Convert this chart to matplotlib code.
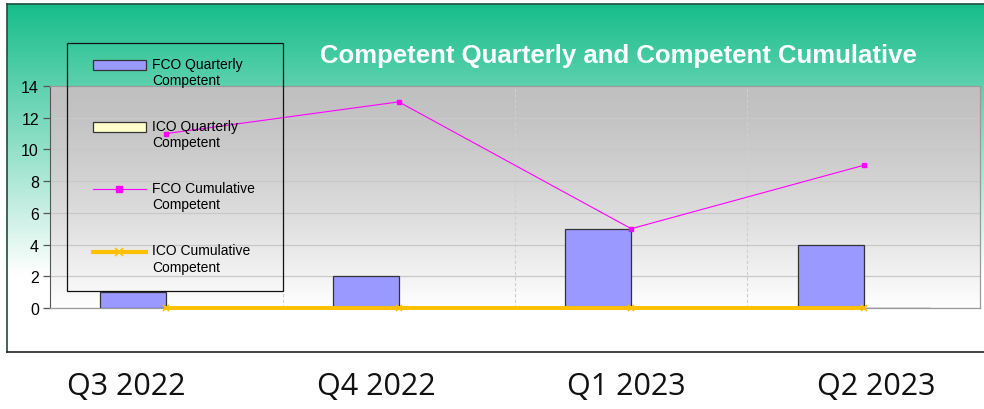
import numpy as np
import matplotlib
matplotlib.use("Agg")
import matplotlib.pyplot as plt
from matplotlib.patches import Rectangle, Patch
from matplotlib.lines import Line2D
from matplotlib.legend_handler import HandlerPatch, HandlerLine2D
from matplotlib.transforms import Affine2D
from matplotlib.colors import to_rgb

quarters = ["Q3 2022", "Q4 2022", "Q1 2023", "Q2 2023"]
fco_quarterly = [1, 2, 5, 4]
ico_quarterly = [0, 0, 0, 0]
fco_cumulative = [11, 13, 5, 9]
ico_cumulative = [0, 0, 0, 0]

W, H = 984, 410
plt.rcParams["font.family"] = ["Liberation Sans", "DejaVu Sans"]


def box(x0, y0, x1, y1):
    # pixel box (top-left origin) -> figure fraction rect
    return [x0 / W, 1 - y1 / H, (x1 - x0) / W, (y1 - y0) / H]


def vgrad(top, bottom, t):
    a, b = np.array(to_rgb(top)), np.array(to_rgb(bottom))
    return (a[None, :] * (1 - t[:, None]) + b[None, :] * t[:, None])[:, None, :]


fig = plt.figure(figsize=(W / 100, H / 100), dpi=100)

# chart background (green to white)
bg = fig.add_axes(box(7, 5, 984, 353))
f = np.linspace(0, 1, 300)
bg.imshow(vgrad("#17BD8A", "#FFFFFF", np.clip(f / 0.78, 0, 1)), aspect="auto",
          extent=(0, 1, 0, 1))
bg.set_xticks([])
bg.set_yticks([])
for s in bg.spines.values():
    s.set_color("#1E4D3F")
    s.set_linewidth(1.2)
bg.spines["right"].set_visible(False)
bg.spines["bottom"].set_color("#222222")

ax = fig.add_axes(box(50, 87, 980, 309))
ax.set_zorder(2)
ax.patch.set_visible(False)
x = np.arange(len(quarters))
ax.set_xlim(-0.5, len(quarters) - 0.5)
ax.set_ylim(0, 14)
ax.imshow(vgrad("#C0C0C0", "#FFFFFF", f ** 1.4), aspect="auto",
          extent=(-0.5, len(quarters) - 0.5, 0, 14), zorder=0)

w = 0.284
ax.bar(x - w / 2, fco_quarterly, w, color="#9999FF", edgecolor="#333333",
       linewidth=0.9, zorder=3)
ax.bar(x + w / 2, ico_quarterly, w, color="#FFFFCC", edgecolor="#333333",
       linewidth=0.9, zorder=3)
ax.plot(x, fco_cumulative, color="#FF00FF", lw=0.8, marker="s", ms=3.5, zorder=4)
ax.plot(x, ico_cumulative, color="#FFC000", lw=2.8, marker="x", ms=5, mew=1.2,
        zorder=4, clip_on=False)

ax.set_yticks(range(0, 15, 2))
ax.set_xticks(x)
ax.set_xticklabels([])
ax.set_xticks(x[:-1] + 0.5, minor=True)
ax.tick_params(axis="x", which="both", length=0)
ax.tick_params(axis="y", direction="out", length=5, width=0.9, color="#555555",
               labelsize=11.5, pad=3)
ax.grid(axis="y", color="#C8C8C8", lw=0.9, zorder=1)
ax.grid(axis="x", which="minor", color="#CFCFCF", ls=(0, (3, 2)), lw=0.8, zorder=1)
ax.set_axisbelow(True)
for k in ["top", "right", "bottom"]:
    ax.spines[k].set_color("#9A9A9A")
    ax.spines[k].set_linewidth(0.9)
ax.spines["left"].set_color("#555555")

fig.text(618 / W, 1 - 56 / H, "Competent Quarterly and Competent Cumulative",
         color="white", fontsize=18.5, fontweight="bold", ha="center", va="center")

for i, q in enumerate(quarters):
    fig.text((126 + 250 * i) / W, 1 - 387 / H, q, fontsize=22,
             family=["Open Sans", "DejaVu Sans"], ha="center", va="center",
             color="#111111")

# legend
class Up:
    shift = 5.5

    def create_artists(self, *args, **kw):
        arts = super().create_artists(*args, **kw)
        trans = args[-1]
        for a in arts:
            a.set_transform(Affine2D().translate(0, self.shift) + trans)
        return arts


class UpPatch(Up, HandlerPatch):
    pass


class UpLine(Up, HandlerLine2D):
    pass


handles = [
    Patch(facecolor="#9999FF", edgecolor="#333333", linewidth=0.9),
    Patch(facecolor="#FFFFCC", edgecolor="#333333", linewidth=0.9),
    Line2D([], [], color="#FF00FF", lw=0.8, marker="s", ms=5),
    Line2D([], [], color="#FFC000", lw=3, marker="x", ms=6, mew=1.2),
]
labels = ["FCO Quarterly\nCompetent", "ICO Quarterly\nCompetent",
          "FCO Cumulative\nCompetent", "ICO Cumulative\nCompetent"]
hmap = {Patch: UpPatch(), Line2D: UpLine()}
leg = fig.legend(handles, labels, loc="upper left", bbox_to_anchor=(93 / W, 1 - 58 / H),
                 frameon=False, fontsize=10, borderpad=0, borderaxespad=0,
                 handlelength=3.8, handletextpad=0.45, labelspacing=2.3,
                 handler_map=hmap)
leg.set_zorder(3)
fig.patches.append(Rectangle((67 / W, 1 - 292 / H), 216 / W, 248 / H,
                             transform=fig.transFigure, fill=False,
                             edgecolor="#111111", lw=0.9, zorder=3))

fig.savefig("out.png", dpi=100)
